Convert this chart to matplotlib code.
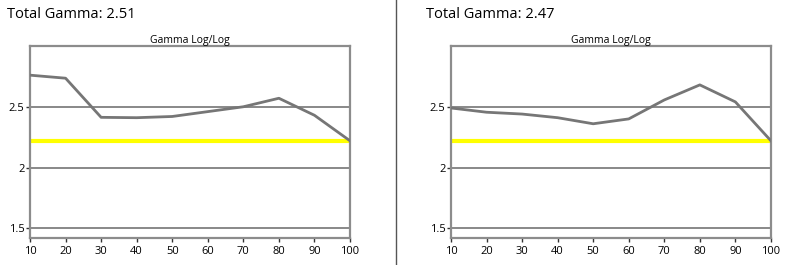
import matplotlib.pyplot as plt

# brightness steps (%)
steps = [10, 20, 30, 40, 50, 60, 70, 80, 90, 100]

# measured gamma per step, left and right panel
gamma_left = [2.76, 2.735, 2.413, 2.41, 2.42, 2.46, 2.50, 2.57, 2.43, 2.22]
gamma_right = [2.49, 2.455, 2.44, 2.41, 2.36, 2.40, 2.556, 2.68, 2.54, 2.22]

target = 2.22
totals = ["2.51", "2.47"]

yticks = [1.5, 2, 2.5]
ytick_labels = ["1.5", "2", "2.5"]

plt.rcParams['font.family'] = ['Open Sans', 'DejaVu Sans']

fig = plt.figure(figsize=(7.92, 2.65), dpi=100)

panels = [(0.0379, gamma_left, totals[0], 0.009),
          (0.5694, gamma_right, totals[1], 0.5375)]

for x0, gamma, total, tx in panels:
    ax = fig.add_axes([x0, 0.1019, 0.404, 0.7245])
    for y in yticks:
        ax.axhline(y, color='#7f7f7f', linewidth=1.3, zorder=1)
    ax.axhline(target, color='#ffff00', linewidth=3, zorder=2)
    ax.plot(steps, gamma, color='#767676', linewidth=2, zorder=3)
    ax.set_xlim(10, 100)
    ax.set_ylim(1.42, 3.0)
    ax.set_xticks(steps)
    ax.set_yticks(yticks)
    ax.set_yticklabels(ytick_labels)
    ax.tick_params(labelsize=8, length=3, width=1, color='#333333', pad=1)
    ax.tick_params(axis='x', pad=3)
    for s in ax.spines.values():
        s.set_color('#8c8c8c')
        s.set_linewidth(1.6)
    ax.set_title("Gamma Log/Log", fontsize=7.5, pad=2)
    fig.text(tx, 0.945, "Total Gamma: " + total, fontsize=10.5, va='center', ha='left')

# separator between the two charts
fig.add_artist(plt.Line2D([0.5, 0.5], [0, 1], color='#555555', linewidth=1,
                          transform=fig.transFigure))

fig.savefig("out.png", dpi=100)
